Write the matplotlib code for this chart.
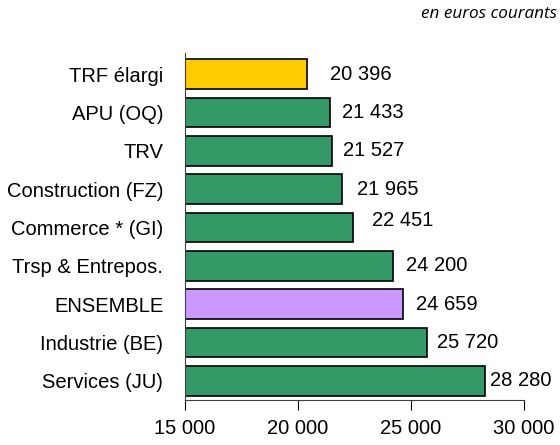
import matplotlib
matplotlib.use("Agg")
import matplotlib.pyplot as plt
from matplotlib.ticker import FuncFormatter

# data, top to bottom
categories = [
    "TRF élargi", "APU (OQ)", "TRV", "Construction (FZ)", "Commerce * (GI)",
    "Trsp & Entrepos.", "ENSEMBLE", "Industrie (BE)", "Services (JU)",
]
values = [20396, 21433, 21527, 21965, 22451, 24200, 24659, 25720, 28280]
colors = ["#FFCC00"] + ["#339966"] * 5 + ["#CC99FF"] + ["#339966"] * 2
x_ticks = [15000, 20000, 25000, 30000]

# label nudges in pixels (labels were placed by hand in the original)
label_dx = [23, 12, 11, 15, 19, 13, 13, 10, 5]
label_dy = [0, 0, 0, 0, 7, 0, 0, 0, 0]


def fmt_fr(v, pos=None):
    return f"{int(v):,}".replace(",", " ")


plt.rcParams["font.family"] = ["Liberation Sans", "DejaVu Sans"]
FS = 14.5

fig = plt.figure(figsize=(5.6, 4.45), dpi=100)
ax = fig.add_axes([0.330, 0.101, 0.606, 0.780])

ypos = list(range(len(categories)))[::-1]
ax.barh(ypos, [v - 15000 for v in values], left=15000, height=0.77,
        color=colors, edgecolor="black", linewidth=1.2, zorder=2)

for y, v, dx, dy in zip(ypos, values, label_dx, label_dy):
    ax.annotate(fmt_fr(v), xy=(v, y), xytext=(dx, dy), textcoords="offset pixels",
                va="center", ha="left", fontsize=FS)

ax.set_xlim(15000, 30000)
ax.set_ylim(-0.5, 8.55)
ax.set_xticks(x_ticks)
ax.xaxis.set_major_formatter(FuncFormatter(fmt_fr))
ax.set_yticks(ypos)
ax.set_yticklabels(categories)
ax.tick_params(axis="y", length=0, pad=15.5, labelsize=FS)
ax.tick_params(axis="x", length=7, direction="out", pad=7, labelsize=FS)

for s in ["top", "right"]:
    ax.spines[s].set_visible(False)
ax.spines["left"].set_color("#404040")
ax.spines["bottom"].set_color("#404040")

fig.text(0.994, 0.968, "en euros courants", ha="right", va="center",
         fontsize=12.3, style="italic", family="Open Sans")

fig.savefig("out.png", dpi=100)
